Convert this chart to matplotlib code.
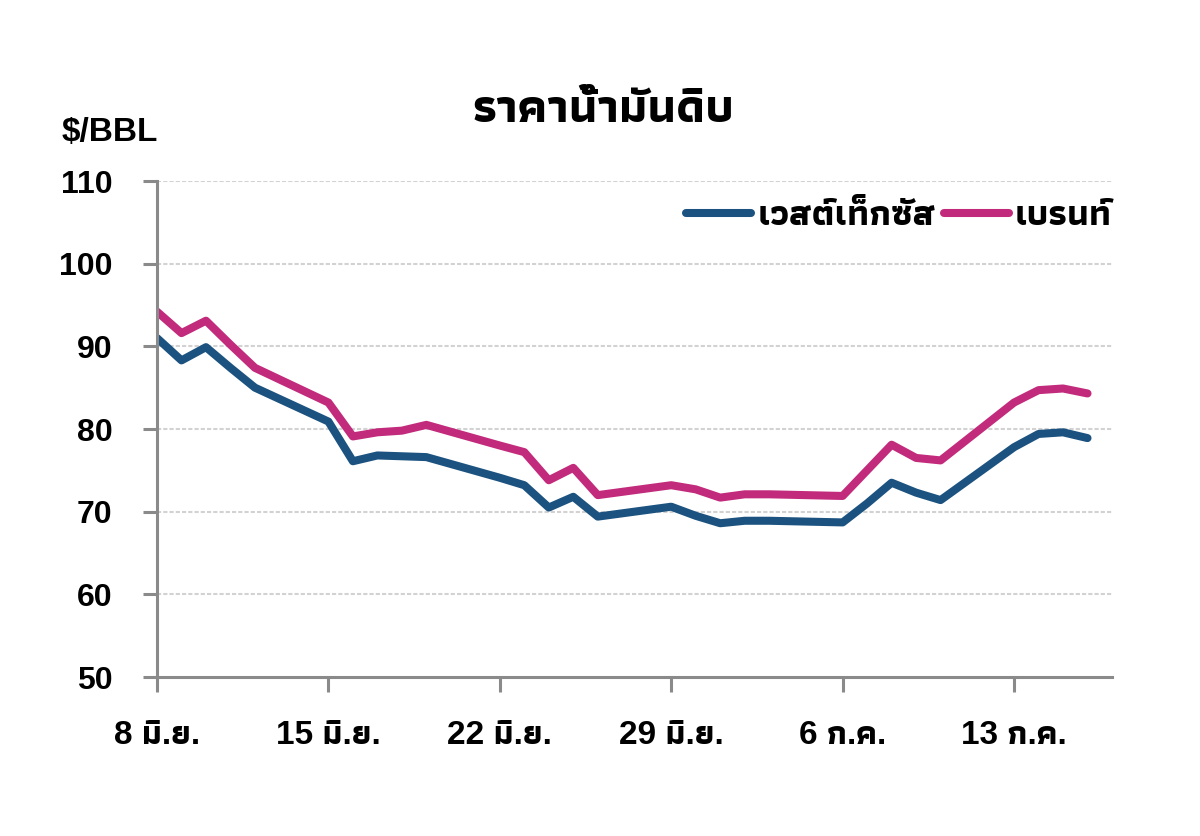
import matplotlib
matplotlib.use("Agg")
from matplotlib import pyplot as plt
import numpy as np
import pandas as pd

# trading days shown on the chart
dates = ["2009-06-08", "2009-06-09", "2009-06-10", "2009-06-11", "2009-06-12",
         "2009-06-15", "2009-06-16", "2009-06-17", "2009-06-18", "2009-06-19",
         "2009-06-22", "2009-06-23", "2009-06-24", "2009-06-25", "2009-06-26",
         "2009-06-29", "2009-06-30", "2009-07-01", "2009-07-02", "2009-07-03",
         "2009-07-06", "2009-07-07", "2009-07-08", "2009-07-09", "2009-07-10",
         "2009-07-13", "2009-07-14", "2009-07-15", "2009-07-16"]

wti = [91.0, 88.3, 89.9, 87.4, 85.0,
       80.9, 76.1, 76.8, 76.7, 76.6,
       74.1, 73.2, 70.5, 71.8, 69.4,
       70.6, 69.5, 68.6, 68.9, 68.9,
       68.7, 71.0, 73.5, 72.3, 71.4,
       77.8, 79.4, 79.6, 78.9]

brent = [94.2, 91.6, 93.1, 90.2, 87.4,
         83.2, 79.1, 79.6, 79.8, 80.5,
         78.0, 77.2, 73.8, 75.3, 72.0,
         73.2, 72.7, 71.7, 72.1, 72.1,
         71.9, 75.0, 78.1, 76.5, 76.2,
         83.2, 84.7, 84.9, 84.3]

tick_dates = ["2009-06-08", "2009-06-15", "2009-06-22", "2009-06-29", "2009-07-06", "2009-07-13"]
tick_labels = ["8 มิ.ย.", "15 มิ.ย.", "22 มิ.ย.", "29 มิ.ย.", "6 ก.ค.", "13 ก.ค."]

series_names = ["เวสต์เท็กซัส", "เบรนท์"]
title = "ราคาน้ำมันดิบ"
unit = "$/BBL"

FONT = ["Liberation Sans", "Athiti", "DejaVu Sans"]
plt.rcParams['font.family'] = FONT
plt.rcParams['font.weight'] = 'bold'

c_wti = "#1b527f"
c_brent = "#c22a7b"
axis_gray = "#8a8a8a"

x = pd.to_datetime(dates)

fig = plt.figure(figsize=(12, 8.36), dpi=100)
ax = fig.add_axes([157/1200, 1-677/836, (1112-157)/1200, (677-181)/836])

ax.plot(x, wti, color=c_wti, lw=5.8, solid_joinstyle='round', solid_capstyle='round', label=series_names[0])
ax.plot(x, brent, color=c_brent, lw=5.8, solid_joinstyle='round', solid_capstyle='round', label=series_names[1])

ax.set_ylim(50, 110)
ax.set_yticks(np.arange(50, 111, 10))
ax.set_xlim(pd.Timestamp("2009-06-08"), pd.Timestamp("2009-07-17"))
ax.set_xticks(pd.to_datetime(tick_dates))
ax.set_xticklabels(tick_labels)

for v in range(60, 111, 10):
    ax.axhline(v, color="#d2d2d2", lw=1.5, ls=(0, (2.0, 1.0)), zorder=0)

for s in ["top", "right"]:
    ax.spines[s].set_visible(False)
for s in ["left", "bottom"]:
    ax.spines[s].set_color(axis_gray)
    ax.spines[s].set_linewidth(2.2)

ax.tick_params(axis='y', length=10, width=2.2, color=axis_gray, pad=22, labelsize=23)
ax.tick_params(axis='x', length=11, width=2.2, color=axis_gray, pad=20, labelsize=24)
for lab in ax.get_xticklabels() + ax.get_yticklabels():
    lab.set_fontweight('bold')

leg = ax.legend(loc='center right', bbox_to_anchor=(1.0, 0.93), ncol=2, frameon=False,
                prop={'size': 26, 'weight': 'bold'}, handlelength=1.8, handletextpad=0.17,
                columnspacing=0.22, borderpad=0, borderaxespad=0)

fig.text(603/1200, 1-110/836, title, ha='center', va='center', fontsize=34, fontweight='bold')
fig.text(62/1200, 1-133/836, unit, ha='left', va='center', fontsize=24, fontweight='bold')

fig.savefig("out.png")
